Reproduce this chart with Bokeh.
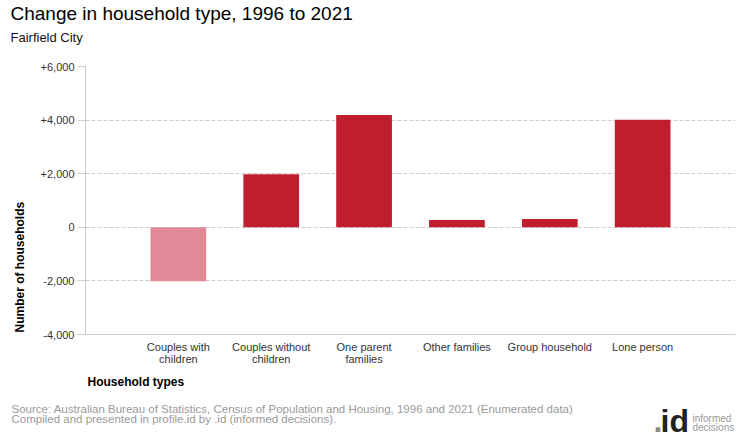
from bokeh.plotting import figure
from bokeh.models import FactorRange, Range1d, FixedTicker, Label, ColumnDataSource, Title
from bokeh.layouts import column
from bokeh.embed import file_html
from bokeh.resources import INLINE

# ---- data ----
categories = ["Couples with\nchildren", "Couples without\nchildren", "One parent\nfamilies",
              "Other families", "Group household", "Lone person"]
change = [-2010, 1980, 4190, 270, 310, 4010]
y_ticks = [-4000, -2000, 0, 2000, 4000, 6000]
y_tick_labels = ["-4,000", "-2,000", "0", "+2,000", "+4,000", "+6,000"]

title_text = "Change in household type, 1996 to 2021"
subtitle_text = "Fairfield City"
y_title = "Number of households"
x_title = "Household types"
source_lines = ["Source: Australian Bureau of Statistics, Census of Population and Housing, 1996 and 2021 (Enumerated data)",
                "Compiled and presented in profile.id by .id (informed decisions)."]

POS = "#BF1E2E"
NEG = "#E08A98"
FONT = "Liberation Sans"
W = 740


def blank(h):
    f = figure(width=W, height=h, output_backend="svg", toolbar_location=None,
               x_range=Range1d(0, W), y_range=Range1d(h, 0),
               x_axis_location=None, y_axis_location=None,
               min_border=0, min_border_left=0, min_border_right=0,
               min_border_top=0, min_border_bottom=0, frame_align=False)
    f.outline_line_color = None
    f.grid.visible = False
    return f


def lab(f, text, x, y, size, color="#000000", style="normal", font=FONT):
    f.add_layout(Label(x=x, y=y, text=text, text_font=font, text_font_size=size,
                       text_color=color, text_font_style=style,
                       text_align="left", text_baseline="alphabetic"))


# ---- header ----
HEAD_H = 56
header = blank(HEAD_H)
lab(header, title_text, 10, 13, "19px")
lab(header, subtitle_text, 10, 37, "13px", "#111111")

# ---- main chart ----
colors = [POS if v >= 0 else NEG for v in change]
src = ColumnDataSource(dict(cat=categories, val=change, color=colors))

p = figure(width=W, height=339, output_backend="svg", toolbar_location=None,
           x_range=FactorRange(factors=categories, range_padding=1/6),
           y_range=Range1d(-4000, 6000), frame_align=False,
           min_border_left=85, min_border_right=5, min_border_top=10, min_border_bottom=61)
p.outline_line_color = None

p.vbar(x="cat", top="val", bottom=0, width=0.6, fill_color="color", line_color=None, source=src)

p.yaxis.ticker = FixedTicker(ticks=y_ticks)
p.yaxis.major_label_overrides = {t: l for t, l in zip(y_ticks, y_tick_labels)}
p.yaxis.axis_line_color = "#cccccc"
p.yaxis.major_tick_line_color = "#cccccc"
p.yaxis.major_tick_out = 8
p.yaxis.major_tick_in = 0
p.yaxis.minor_tick_line_color = None
p.yaxis.major_label_text_font = FONT
p.yaxis.major_label_text_font_size = "11px"
p.yaxis.major_label_text_color = "#333333"
p.yaxis.major_label_standoff = 3

p.xaxis.axis_line_color = "#cccccc"
p.xaxis.major_tick_line_color = None
p.xaxis.minor_tick_line_color = None
p.xaxis.major_label_text_font = FONT
p.xaxis.major_label_text_font_size = "11px"
p.xaxis.major_label_text_color = "#333333"
p.xaxis.major_label_text_line_height = 1.05
p.xaxis.major_label_standoff = 0

p.xgrid.grid_line_color = None
p.ygrid.grid_line_color = "#cccccc"
p.ygrid.grid_line_dash = "4 2"
p.ygrid.ticker = FixedTicker(ticks=y_ticks)

p.add_layout(Title(text=y_title, align="left", offset=2, standoff=21,
                   text_font=FONT, text_font_size="12px", text_font_style="bold",
                   text_color="#000000"), "left")
p.add_layout(Title(text=x_title, align="left", offset=2, standoff=9,
                   text_font=FONT, text_font_size="12px", text_font_style="bold",
                   text_color="#000000"), "below")

# ---- footer ----
FOOT_H = 45
footer = blank(FOOT_H)
lab(footer, source_lines[0], 11, 13, "11.5px", "#9a9a9a")
lab(footer, source_lines[1], 11, 23, "11.5px", "#9a9a9a")
lab(footer, ".", 653, 25, "32px", "#8a8a8a", "bold")
lab(footer, "id", 660, 25, "32px", "#222222", "bold")
lab(footer, "informed", 692, 22.5, "10px", "#999999")
lab(footer, "decisions", 692, 32, "10px", "#999999")

layout = column(header, p, footer, spacing=0)
open("out.html", "w").write(file_html(layout, INLINE))
